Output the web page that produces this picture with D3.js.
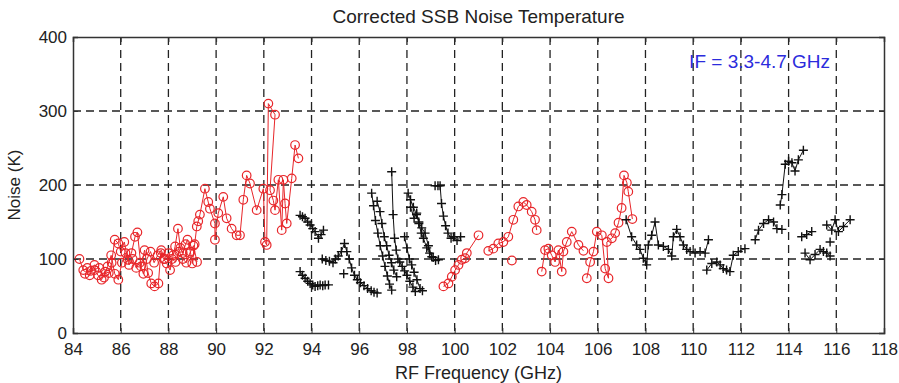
<!DOCTYPE html>
<html>
<head>
<meta charset="utf-8">
<script src="https://cdn.jsdelivr.net/npm/d3@7"></script>
<style>
    body { margin: 0; background: #fff; }
    text { font-family: 'Liberation Sans', Arial, Helvetica, sans-serif; fill: #222; }
    .tickLabel { font-size: 17px; }
    .grid { stroke: #222; stroke-width: 1.3; stroke-dasharray: 8,5; }
</style>
</head>
<body>
<div id="chart"></div>
<script>
// axis ticks
let xTicks = [84, 86, 88, 90, 92, 94, 96, 98, 100, 102, 104, 106, 108, 110, 112, 114, 116, 118];
let yTicks = [0, 100, 200, 300, 400];

// red 'o-' sweeps: [RF GHz, noise K]
let red1 = [[84.27,100],[84.43,85],[84.6,88],[84.75,84],[84.9,85],[85.05,78],[85.2,72],[85.35,83],[85.5,81],[85.62,95],[85.75,126],[85.9,121],[86.0,110],[86.15,123],[86.3,99],[86.45,108],[86.6,130],[86.7,136],[86.85,90],[87.0,112],[87.15,81],[87.28,67],[87.42,63],[87.58,67],[87.68,108],[87.8,100],[87.93,94],[88.07,85],[88.2,105],[88.28,117],[88.4,141],[88.5,115],[88.6,108],[88.72,120],[88.8,126],[88.92,110],[89.0,94],[89.1,120],[89.19,144],[89.25,151],[89.32,160],[89.53,195],[89.67,177],[89.74,168],[89.95,148],[89.95,126],[90.09,162],[90.3,184],[90.44,155],[90.65,141],[90.86,132],[91.0,132],[91.14,180],[91.28,213],[91.42,202],[91.7,166],[91.98,195],[92.05,123],[92.12,119],[92.19,310],[92.47,295],[92.26,193],[92.4,179],[92.47,166],[92.61,207],[92.75,139],[92.82,207],[92.89,175],[92.96,148],[93.17,209],[93.31,254],[93.45,236]];
let red2 = [[84.5,80],[84.7,78],[84.9,92],[85.1,88],[85.3,75],[85.45,90],[85.6,105],[85.75,80],[85.9,72],[86.05,95],[86.2,108],[86.35,92],[86.5,100],[86.65,88],[86.8,95],[86.95,80],[87.1,100],[87.25,110],[87.4,95],[87.55,105],[87.7,112],[87.85,100],[88.0,108],[88.15,100],[88.3,96],[88.45,110],[88.6,100],[88.75,95],[88.9,108],[89.05,118],[89.2,96]];
let red3 = [[99.53,63],[99.74,67],[99.88,76],[100.02,85],[100.16,92],[100.3,99],[100.44,101],[100.51,108],[101.0,132]];
let red4 = [[101.41,111],[101.62,114],[101.83,121],[102.04,123],[102.25,130],[102.46,153],[102.67,171],[102.88,177],[103.02,173],[103.23,164],[103.37,153],[103.44,139]];
let red5 = [[102.4,98]];
let red6 = [[103.65,83],[103.79,112],[103.93,114],[104.07,105],[104.21,96],[104.35,112],[104.49,83],[104.56,110],[104.7,123],[104.91,137],[105.19,119],[105.4,111]];
let red7 = [[105.54,74],[105.68,96],[105.82,110],[105.96,137],[106.17,132],[106.31,87],[106.45,74],[106.38,123],[106.59,128],[106.73,135],[106.87,149],[107.0,169],[107.1,213],[107.22,203],[107.28,191],[107.45,154]];

// black '+-' sweeps
let blackA = [[93.52,159],[93.62,157],[93.73,155],[93.84,150],[93.94,146],[94.05,141],[94.15,137],[94.29,128],[94.4,133],[94.5,139]];
let blackB = [[93.52,83],[93.62,78],[93.73,74],[93.84,70],[93.94,67],[94.05,65],[94.15,63],[94.26,64],[94.36,65],[94.47,64],[94.57,65],[94.71,65]];
let blackC = [[94.45,100],[94.6,98],[94.75,97],[94.9,95],[95.0,100],[95.12,104],[95.25,110],[95.38,121],[95.48,110],[95.58,100],[95.68,88],[95.8,78],[95.92,72],[96.05,68],[96.2,64],[96.35,60],[96.5,57],[96.62,55],[96.75,54]];
let blackD = [[95.35,80]];
let blackE1 = [[96.52,189],[96.6,172],[96.68,152],[96.78,135],[96.88,118],[96.98,104],[97.08,90],[97.18,77],[97.27,66],[97.36,58]];
let blackE2 = [[96.75,178],[96.87,164],[96.95,148],[97.05,130],[97.15,118],[97.25,105],[97.35,95],[97.45,85],[97.57,76]];
let blackE3 = [[97.36,218],[97.42,160],[97.48,128],[97.55,112],[97.62,100],[97.7,96],[97.8,90],[97.9,84],[98.0,78],[98.12,70],[98.25,62],[98.35,56]];
let blackF1 = [[98.05,189],[98.15,180],[98.27,170],[98.4,160],[98.5,150],[98.62,142],[98.76,135],[98.9,118],[99.04,103],[99.2,98],[99.32,99]];
let blackF2 = [[98.15,170],[98.3,155],[98.41,162],[98.5,148],[98.6,135],[98.69,128],[98.83,115],[98.95,108],[99.1,102]];
let blackF3 = [[97.9,130],[98.0,115],[98.1,100],[98.2,92],[98.3,82],[98.42,72],[98.55,60],[98.65,57]];
let blackG = [[99.18,199],[99.3,199],[99.39,199],[99.45,175],[99.53,158],[99.62,145],[99.72,135],[99.85,128],[99.95,130],[100.1,125],[100.25,130]];
let blackH = [[107.19,153],[107.42,130],[107.63,119],[107.77,113],[107.91,101],[108.05,92],[108.12,119],[108.26,132],[108.4,150],[108.54,119],[108.75,117],[108.96,113],[109.1,104],[109.17,130],[109.31,140],[109.45,130],[109.59,119],[109.73,113],[109.87,110],[110.08,108],[110.29,110],[110.5,108],[110.64,126]];
let blackI = [[110.57,85],[110.78,94],[110.99,96],[111.13,92],[111.26,87],[111.4,85],[111.54,83],[111.68,105],[111.89,110],[112.17,114]];
let blackJ = [[112.6,126],[112.74,139],[112.95,148],[113.16,153],[113.37,150],[113.51,141],[113.72,140]];
let blackK = [[113.65,173],[113.72,187],[113.86,228],[114.0,232],[114.14,230],[114.27,219],[114.41,234],[114.62,247]];
let blackL = [[114.55,130],[114.76,133],[114.97,137]];
let blackM = [[114.69,108],[114.9,99],[115.11,106],[115.32,113],[115.46,110],[115.6,108],[115.74,104]];
let blackN = [[115.6,146],[115.81,139],[115.95,153],[116.09,137],[116.3,144],[116.58,153]];
let blackO = [[115.74,123]];

let redSets = [red1, red2, red3, red4, red5, red6, red7];
let blackSets = [blackA, blackB, blackC, blackD, blackE1, blackE2, blackE3, blackF1, blackF2, blackF3, blackG, blackH, blackI, blackJ, blackK, blackL, blackM, blackN, blackO];

let margin = {top: 37, right: 15, bottom: 50, left: 73};
let width = 899 - margin.left - margin.right;
let height = 383 - margin.top - margin.bottom;

let svg = d3.select('#chart').append('svg')
    .attr('width', 899)
    .attr('height', 383)
    .append('g')
    .attr('transform', 'translate(' + margin.left + ',' + margin.top + ')');

let x = d3.scaleLinear().domain([84, 118]).range([0, width]);
let y = d3.scaleLinear().domain([0, 400]).range([height, 0]);

svg.append('g').selectAll('line.vgrid') // dashed vertical grid
    .data(xTicks.slice(1, -1)).enter().append('line')
    .attr('class', 'grid')
    .attr('x1', d => x(d)).attr('x2', d => x(d))
    .attr('y1', 0).attr('y2', height);
svg.append('g').selectAll('line.hgrid') // dashed horizontal grid
    .data(yTicks.slice(1, -1)).enter().append('line')
    .attr('class', 'grid')
    .attr('x1', 0).attr('x2', width)
    .attr('y1', d => y(d)).attr('y2', d => y(d));

let line = d3.line().x(d => x(d[0])).y(d => y(d[1]));

redSets.forEach(function(s) { // red sweeps, line + circles
    svg.append('path').datum(s)
        .attr('fill', 'none')
        .attr('stroke', '#e8262a')
        .attr('stroke-width', 1)
        .attr('d', line);
    svg.append('g').selectAll('circle')
        .data(s).enter().append('circle')
        .attr('cx', d => x(d[0]))
        .attr('cy', d => y(d[1]))
        .attr('r', 4.3)
        .attr('fill', 'none')
        .attr('stroke', '#e8262a')
        .attr('stroke-width', 1.2);
});

blackSets.forEach(function(s) { // black sweeps, line + plus markers
    svg.append('path').datum(s)
        .attr('fill', 'none')
        .attr('stroke', '#111')
        .attr('stroke-width', 1)
        .attr('d', line);
    s.forEach(function(d) {
        let px = x(d[0]), py = y(d[1]);
        svg.append('path')
            .attr('d', 'M' + (px - 4.5) + ',' + py + 'H' + (px + 4.5) + 'M' + px + ',' + (py - 4.5) + 'V' + (py + 4.5))
            .attr('stroke', '#111')
            .attr('stroke-width', 1.4);
    });
});

svg.append('g') // bottom axis, ticks inside
    .attr('transform', 'translate(0,' + height + ')')
    .call(d3.axisBottom(x).tickValues(xTicks).tickSize(-5).tickPadding(10))
    .call(g => g.selectAll('text').attr('class', 'tickLabel').attr('fill', '#222'));
svg.append('g') // top axis ticks
    .call(d3.axisTop(x).tickValues(xTicks).tickSize(-5).tickFormat(''));
svg.append('g') // left axis
    .call(d3.axisLeft(y).tickValues(yTicks).tickSize(-5).tickPadding(6))
    .call(g => g.selectAll('text').attr('class', 'tickLabel').attr('fill', '#222'));
svg.append('g') // right axis ticks
    .attr('transform', 'translate(' + width + ',0)')
    .call(d3.axisRight(y).tickValues(yTicks).tickSize(-5).tickFormat(''));
svg.selectAll('.domain').attr('stroke', '#333').attr('stroke-width', 1.5);
svg.selectAll('.tick line').attr('stroke', '#333');

svg.append('text') // title
    .attr('x', width / 2).attr('y', -14)
    .attr('text-anchor', 'middle')
    .style('font-size', '19px')
    .text('Corrected SSB Noise Temperature');
svg.append('text') // x label
    .attr('x', width / 2).attr('y', height + 46)
    .attr('text-anchor', 'middle')
    .style('font-size', '18px')
    .text('RF Frequency (GHz)');
svg.append('text') // y label
    .attr('transform', 'rotate(-90)')
    .attr('x', -height / 2).attr('y', -53)
    .attr('text-anchor', 'middle')
    .style('font-size', '17px')
    .text('Noise (K)');
svg.append('text') // IF annotation
    .attr('x', x(109.83)).attr('y', y(358))
    .style('font-size', '19px')
    .style('fill', '#2b2bdc')
    .text('IF = 3.3-4.7 GHz');
</script>
</body>
</html>
